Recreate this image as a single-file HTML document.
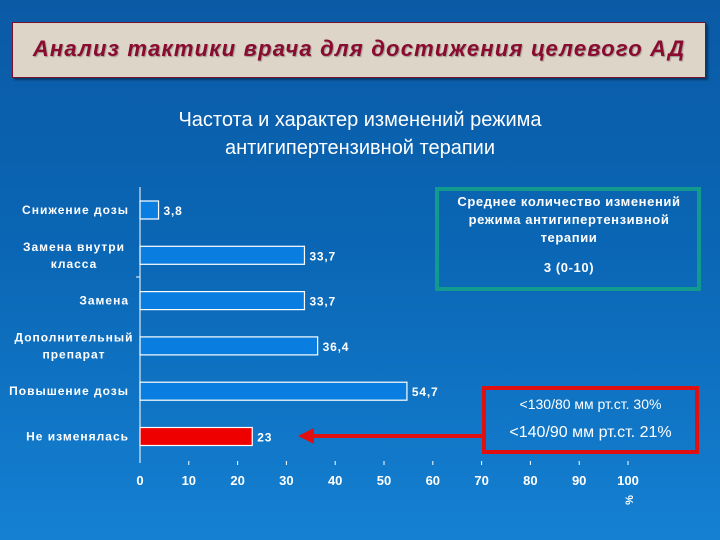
<!DOCTYPE html>
<html><head><meta charset="utf-8"><style>
body{margin:0;width:720px;height:540px;overflow:hidden;font-family:"Liberation Sans","Noto Sans CJK SC",sans-serif;}
#bg{position:absolute;left:0;top:0;width:720px;height:540px;background:linear-gradient(#0b5aa6 0%,#0a66b4 45%,#1580d2 100%);}
.t{position:absolute;color:#fff;}
</style></head><body>
<div id="bg"></div>
<div style="position:absolute;left:12px;top:22px;width:692px;height:54px;background:#ddd5c8;border:1px solid #7a1030;box-shadow:2px 2px 2px rgba(0,0,0,.4);"></div>
<div class="t" style="left:12px;top:36px;width:694px;text-align:center;color:#8a0a30;font-weight:bold;font-style:italic;font-size:22px;letter-spacing:1.2px;text-shadow:1px 1px 1px rgba(0,0,0,.3);">Анализ тактики врача для достижения целевого АД</div>
<div class="t" style="left:0;top:106px;width:720px;text-align:center;font-size:20px;line-height:28px;">Частота и характер изменений режима<br>антигипертензивной терапии</div>
<div style="position:absolute;left:435px;top:187px;width:266px;height:104px;border:4px solid #129a8e;box-sizing:border-box;"></div>
<div class="t" style="left:437px;top:193px;width:264px;text-align:center;font-size:13px;font-weight:bold;letter-spacing:0.6px;line-height:18px;">Среднее количество изменений<br>режима антигипертензивной<br>терапии<div style="margin-top:12px">3 (0-10)</div></div>
<div style="position:absolute;left:482px;top:386px;width:217px;height:68px;border:4px solid #e01010;box-sizing:border-box;"></div>
<div class="t" style="left:482px;top:396px;width:217px;text-align:center;font-size:14px;">&lt;130/80 мм рт.ст. 30%</div>
<div class="t" style="left:482px;top:424px;width:217px;text-align:center;font-size:16px;">&lt;140/90 мм рт.ст. 21%</div>
<svg id="chart" width="720" height="540" style="position:absolute;left:0;top:0"></svg>
<script>
const categories=["Снижение дозы","Замена внутри|класса","Замена","Дополнительный|препарат","Повышение дозы","Не изменялась"];
const values=[3.8,33.7,33.7,36.4,54.7,23];
const valueLabels=["3,8","33,7","33,7","36,4","54,7","23"];
const ticks=[0,10,20,30,40,50,60,70,80,90,100];
const svg=document.getElementById('chart');
const NS='http://www.w3.org/2000/svg';
const x=v=>140+v*4.88;
const yc=i=>210+i*45.3;
function mk(t,a,txt){const e=document.createElementNS(NS,t);for(const k in a)e.setAttribute(k,a[k]);if(txt!=null)e.textContent=txt;svg.appendChild(e);return e;}
const ax=mk('line',{x1:140,y1:187,x2:140,y2:463,stroke:'#fff','stroke-width':1});


mk('line',{x1:136,y1:277,x2:140,y2:277,stroke:'#fff'});
ticks.forEach(t=>{
 if(t>0){const tk=mk('line',{x1:x(t),y1:461,x2:x(t),y2:465,stroke:'#fff'});
 
 }
 const l=mk('text',{x:x(t),y:485,fill:'#fff','font-size':13,'font-weight':'bold','text-anchor':'middle'},t);
 
 
});
const pc=mk('text',{x:0,y:0,fill:'#fff','font-size':11,'font-weight':'bold',transform:'translate(633,500) rotate(-90)','text-anchor':'middle'},'%');


categories.forEach((c,i)=>{
 const cy=yc(i);
 const r=mk('rect',{x:140,y:cy-9,width:x(values[i])-140,height:18,fill:i==5?'#ee0000':'#0a7ee0',stroke:'#fff','stroke-width':1.2});
 
 
 const v=mk('text',{x:x(values[i])+5,y:cy+5,fill:'#fff','font-size':12,'font-weight':'bold','letter-spacing':0.8},valueLabels[i]);
 
 
 const parts=c.split('|');
 parts.forEach((p,j)=>{
  const lt=mk('text',{x:parts.length>1?74:129,y:cy+4+(j-(parts.length-1)/2)*17,fill:'#fff','font-size':12,'font-weight':'bold','letter-spacing':1,'text-anchor':parts.length>1?'middle':'end'},p);
  
  
 });
});
const ar=mk('line',{x1:484,y1:436,x2:312,y2:436,stroke:'#e01010','stroke-width':4});


mk('polygon',{points:'298,436 314,428 314,444',fill:'#e01010'});
</script>
</body></html>
